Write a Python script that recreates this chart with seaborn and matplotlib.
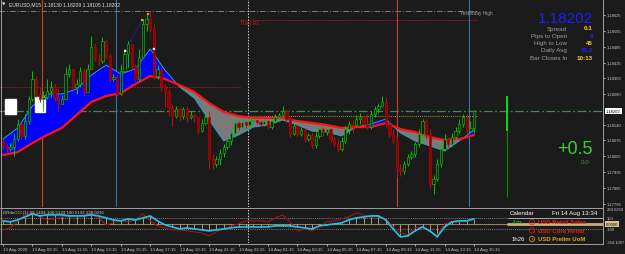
import numpy as np
import pandas as pd
import matplotlib
matplotlib.use("Agg")
import matplotlib.pyplot as plt
import matplotlib.transforms as mtransforms
from matplotlib.lines import Line2D
from matplotlib.patches import Rectangle
import seaborn as sns

# EURUSD M15, bars from 13 Aug 07:15 to 14 Aug 15:15 (open = previous close)
first_open = 1.18072
last_open = 1.18130
close = [
    1.18050, 1.18037, 1.18045, 1.18080, 1.18146, 1.18094, 1.18159, 1.18256, 1.18344, 1.18278,
    1.18256, 1.18265, 1.18291, 1.18309, 1.18265, 1.18234, 1.18256, 1.18366, 1.18388, 1.18309,
    1.18322, 1.18379, 1.18287, 1.18388, 1.18484, 1.18432, 1.18423, 1.18511, 1.18445, 1.18344,
    1.18353, 1.18278, 1.18379, 1.18454, 1.18497, 1.18401, 1.18344, 1.18440, 1.18585, 1.18607,
    1.18563, 1.18357, 1.18388, 1.18309, 1.18287, 1.18221, 1.18181, 1.18212, 1.18181, 1.18212,
    1.18177, 1.18186, 1.18177, 1.18115, 1.18151, 1.18177, 1.17993, 1.17971, 1.17993, 1.18019,
    1.18045, 1.18072, 1.18107, 1.18151, 1.18133, 1.18155, 1.18142, 1.18159, 1.18164, 1.18155,
    1.18146, 1.18159, 1.18133, 1.18159, 1.18177, 1.18186, 1.18203, 1.18168, 1.18102, 1.18137,
    1.18102, 1.18120, 1.18080, 1.18098, 1.18054, 1.18094, 1.18124, 1.18111, 1.18124, 1.18080,
    1.18058, 1.18037, 1.18072, 1.18124, 1.18146, 1.18142, 1.18168, 1.18177, 1.18146, 1.18133,
    1.18190, 1.18212, 1.18225, 1.18243, 1.18146, 1.18102, 1.18072, 1.17949, 1.17940, 1.17971,
    1.18002, 1.18015, 1.18058, 1.18102, 1.18159, 1.18102, 1.17883, 1.17905, 1.17971, 1.18037,
    1.18080, 1.18058, 1.18089, 1.18115, 1.18146, 1.18177, 1.18115, 1.18130, 1.18202]
high = [
    1.18080, 1.18058, 1.18063, 1.18102, 1.18168, 1.18155, 1.18190, 1.18269, 1.18379, 1.18353,
    1.18309, 1.18291, 1.18344, 1.18335, 1.18322, 1.18300, 1.18274, 1.18397, 1.18410, 1.18388,
    1.18344, 1.18397, 1.18388, 1.18410, 1.18533, 1.18497, 1.18454, 1.18528, 1.18519, 1.18454,
    1.18366, 1.18361, 1.18410, 1.18476, 1.18511, 1.18484, 1.18410, 1.18476, 1.18607, 1.18634,
    1.18642, 1.18585, 1.18405, 1.18397, 1.18322, 1.18300, 1.18234, 1.18225, 1.18221, 1.18221,
    1.18225, 1.18203, 1.18190, 1.18177, 1.18168, 1.18190, 1.18203, 1.18015, 1.18006, 1.18037,
    1.18058, 1.18080, 1.18124, 1.18168, 1.18159, 1.18168, 1.18159, 1.18173, 1.18168, 1.18164,
    1.18159, 1.18168, 1.18164, 1.18168, 1.18190, 1.18195, 1.18225, 1.18208, 1.18177, 1.18151,
    1.18142, 1.18133, 1.18129, 1.18107, 1.18107, 1.18111, 1.18133, 1.18133, 1.18137, 1.18129,
    1.18089, 1.18080, 1.18089, 1.18137, 1.18159, 1.18159, 1.18186, 1.18195, 1.18181, 1.18190,
    1.18203, 1.18225, 1.18238, 1.18269, 1.18265, 1.18159, 1.18124, 1.18089, 1.17971, 1.17984,
    1.18015, 1.18028, 1.18067, 1.18124, 1.18168, 1.18168, 1.18124, 1.17922, 1.17993, 1.18058,
    1.18102, 1.18089, 1.18107, 1.18133, 1.18168, 1.18190, 1.18190, 1.18159, 1.18209]
low = [
    1.18037, 1.18015, 1.18028, 1.18006, 1.18072, 1.18080, 1.18080, 1.18146, 1.18247, 1.18265,
    1.18243, 1.18203, 1.18256, 1.18265, 1.18247, 1.18199, 1.18238, 1.18256, 1.18353, 1.18291,
    1.18278, 1.18309, 1.18274, 1.18287, 1.18388, 1.18423, 1.18405, 1.18414, 1.18432, 1.18331,
    1.18335, 1.18269, 1.18274, 1.18375, 1.18397, 1.18388, 1.18335, 1.18335, 1.18440, 1.18554,
    1.18550, 1.18344, 1.18344, 1.18291, 1.18221, 1.18181, 1.18137, 1.18173, 1.18159, 1.18168,
    1.18155, 1.18168, 1.18155, 1.18102, 1.18111, 1.18142, 1.17949, 1.17949, 1.17957, 1.17966,
    1.18002, 1.18037, 1.18054, 1.18089, 1.18120, 1.18124, 1.18129, 1.18124, 1.18146, 1.18146,
    1.18137, 1.18137, 1.18124, 1.18124, 1.18151, 1.18168, 1.18177, 1.18151, 1.18089, 1.18098,
    1.18094, 1.18094, 1.18067, 1.18072, 1.18041, 1.18041, 1.18085, 1.18094, 1.18098, 1.18067,
    1.18045, 1.18023, 1.18028, 1.18063, 1.18102, 1.18107, 1.18137, 1.18146, 1.18133, 1.18124,
    1.18124, 1.18177, 1.18195, 1.18221, 1.18133, 1.18089, 1.18058, 1.17914, 1.17918, 1.17927,
    1.17962, 1.17993, 1.18002, 1.18045, 1.18072, 1.18080, 1.17861, 1.17839, 1.17896, 1.17957,
    1.18028, 1.18045, 1.18050, 1.18080, 1.18107, 1.18133, 1.18102, 1.18107, 1.18105]

# moving average cloud, read every 4th bar
ma_bars = list(range(0, 129, 4))
ma_slow = [1.18010, 1.18023, 1.18063, 1.18098, 1.18129, 1.18186, 1.18243, 1.18269, 1.18282,
           1.18322, 1.18357, 1.18344, 1.18317, 1.18287, 1.18238, 1.18199, 1.18181, 1.18173,
           1.18173, 1.18173, 1.18159, 1.18151, 1.18142, 1.18129, 1.18133, 1.18133, 1.18151,
           1.18124, 1.18111, 1.18089, 1.18076, 1.18080, 1.18098]
ma_fast = [1.18080, 1.18129, 1.18225, 1.18278, 1.18278, 1.18300, 1.18361, 1.18405, 1.18366,
           1.18388, 1.18476, 1.18383, 1.18309, 1.18260, 1.18164, 1.18072, 1.18098, 1.18133,
           1.18142, 1.18164, 1.18142, 1.18115, 1.18111, 1.18094, 1.18133, 1.18146, 1.18168,
           1.18107, 1.18072, 1.18050, 1.18028, 1.18072, 1.18120]

# CCI sub window, read every 2nd bar
cci_bars = list(range(0, 129, 2))
cci_main = [56, 37, 74, 130, 185, 148, 167, 167, 167, 148,
            148, 148, 167, 148, 111, 74, 56, 93, 74, 111,
            148, 56, -19, -56, -93, -74, -93, -111, -130, -111,
            -93, -74, -56, -56, -56, -56, -56, -37, -37, -37,
            -56, -74, -93, -37, -19, 0, 19, 74, 111, 130,
            148, 148, 74, -93, -241, -222, -130, -56, -130, -241,
            -56, 37, 56, 56, 93]
cci_signal = [-111, -74, 56, 167, 204, 130, 74, 93, 130, 148,
              148, 167, 185, 111, -19, 19, 56, 37, 74, 185,
              56, -37, -74, -111, -111, -130, -148, -167, -222, -148,
              -93, -37, 0, 56, 56, 56, 37, 111, 167, 37,
              -130, -93, -130, -56, 37, 56, 93, 130, 204, 167,
              130, 148, 93, -56, -167, -204, -74, -56, -148, -204,
              0, 37, 37, 56, 93]

time_ticks = list(range(0, 129, 8))
time_labels = ["13 Aug 2020", "13 Aug 09:15", "13 Aug 11:15", "13 Aug 13:15", "13 Aug 15:15",
               "13 Aug 17:15", "13 Aug 19:15", "13 Aug 21:15", "13 Aug 23:15", "14 Aug 01:15",
               "14 Aug 03:15", "14 Aug 05:15", "14 Aug 07:15", "14 Aug 09:15", "14 Aug 11:15",
               "14 Aug 13:15", "14 Aug 15:15"]
price_ticks = [1.18625, 1.18555, 1.18485, 1.18415, 1.18350, 1.18280,
               1.18140, 1.18075, 1.18005, 1.17935, 1.17865, 1.17796]
bid = 1.18202

# levels
yesterday_high = 1.18642
daily_r1 = 1.18603
prev_r1 = 1.18309
day_open = 1.18202
pivot = 1.18181
session_lines = [(10.6, '#c4421c'), (30.7, '#3d6fa3'), (107.0, '#c4421c'), (126.6, '#3d6fa3')]
day_separator = 66.6

info_names = ["Spread", "Pips to Open", "High to Low", "Daily Avg", "Bar Closes In"]
info_values = ["0.1", "0", "45", "55.2", "10:13"]
info_colors = ["#ffd21e", "#2323ff", "#ffd21e", "#2323ff", "#ffd21e"]

BG = '#1b1b1b'
GRID_TXT = '#c8c8c8'

sns.set_theme(style='dark', rc={'axes.facecolor': BG, 'figure.facecolor': BG})
plt.rcParams['font.family'] = ['Liberation Sans', 'DejaVu Sans']

W, H = 625, 255
fig = plt.figure(figsize=(W / 100, H / 100), dpi=100)


def fx(x):
    return x / W


def fy(y):
    return 1 - y / H


ax = fig.add_axes([0, fy(208), 603 / W, 208 / H])
sub = fig.add_axes([0, fy(244), 603 / W, 35 / H])
for a in (ax, sub):
    a.set_xlim(-3 / 3.68, 600 / 3.68)
    a.set_xticks([])
    a.set_yticks([])
    for s in a.spines.values():
        s.set_visible(False)
ax.set_ylim(1.17782, 1.18695)
sub.set_ylim(-354.1007, 294.5264)

# ---- main window ----
o = np.array([first_open] + close[:-1])
o[-1] = last_open
c = np.array(close)
h = np.maximum(np.array(high), np.maximum(o, c))
l = np.minimum(np.array(low), np.minimum(o, c))
bars = np.arange(len(c))
up = c >= o

ma = pd.DataFrame({'bar': ma_bars, 'slow': ma_slow, 'fast': ma_fast})
ax.fill_between(ma.bar, ma.slow, ma.fast, where=ma.fast >= ma.slow, interpolate=True,
                color='#0000ff', lw=0, zorder=2)
ax.fill_between(ma.bar, ma.slow, ma.fast, where=ma.fast < ma.slow, interpolate=True,
                color='#7a7a7a', lw=0, zorder=2)
sns.lineplot(data=ma, x='bar', y='fast', color='#2f9ed6', lw=0.7, ax=ax, zorder=3)
sns.lineplot(data=ma, x='bar', y='slow', color='#ff1414', lw=1.6, ax=ax, zorder=3)

dash_dot = (0, (7, 2, 1.5, 2))
ax.hlines(yesterday_high, -1, 128.8, colors='#8c8c8c', lw=0.6, linestyles=dash_dot, zorder=1)
ax.hlines(daily_r1, 64.4, 128.8, colors='#c81e1e', lw=0.6, linestyles=(0, (1.5, 1.5)), zorder=1)
ax.hlines(prev_r1, -1, 64.4, colors='#c81e1e', lw=0.6, linestyles=(0, (1.5, 1.5)), zorder=1)
ax.hlines(pivot, 61.7, 128.8, colors='#c8c81e', lw=0.6, linestyles=(0, (1, 1.5)), zorder=1)
ax.hlines(day_open, -1, 165, colors='#4f7f55', lw=0.9, linestyles=dash_dot, zorder=1)
ax.text(124.2, yesterday_high - 0.00008, "Yesterday High", color='#a0a0a0', fontsize=3.4,
        ha='left', va='center')
ax.text(64.6, daily_r1 - 0.00009, "Daily R1", color='#c81e1e', fontsize=3.4, va='center')

for xb, col in session_lines:
    ax.axvline(xb, color=col, lw=0.8, zorder=1)
for a in (ax, sub):
    a.axvline(day_separator, color='#d0d0d0', lw=0.7, ls=(0, (1.5, 1.5)), zorder=1)

# white objects on the left
ax.add_patch(Rectangle((0.55, 1.18190), 3.0, 0.00066, color='white', zorder=3.5))
ax.add_patch(Rectangle((8.7, 1.18199), 2.7, 0.00066, color='white', zorder=3.5))

# candles
ax.vlines(bars, l, h, colors=np.where(up, '#00c800', '#b41414'), lw=0.7, zorder=4)
body = np.maximum(np.abs(c - o), 0.00003)
ax.bar(bars, body, bottom=np.minimum(o, c), width=0.62,
       color=np.where(up, BG, '#8c0000'), edgecolor=np.where(up, '#00c800', '#c00000'),
       linewidth=0.45, zorder=5)

# signal marks near the high
sig_bars = [33.2, 37.8, 39.4, 41.0]
sig_prices = [1.18467, 1.18603, 1.18629, 1.18476]
ax.plot(sig_bars[:2], sig_prices[:2], color='#2a2aff', lw=0.6, ls=(0, (1, 1)), zorder=6)
ax.scatter(sig_bars, sig_prices, s=3, c=['white', '#ffb020', '#ff8c1e', 'white'],
           lw=0, zorder=6)

# projection bar
ax.vlines(137, 1.17826, 1.18116, colors='#009a00', lw=0.7, zorder=4)
ax.vlines(137, 1.18116, 1.18269, colors='#00e600', lw=1.4, zorder=4)

# right price scale
bt = mtransforms.blended_transform_factory(ax.transAxes, ax.transData)
for p in price_ticks:
    ax.plot([1.0, 1.004], [p, p], color=GRID_TXT, lw=0.5, transform=bt, clip_on=False)
    ax.text(1.006, p, f"{p:.5f}", transform=bt, fontsize=3.0, color=GRID_TXT, va='center',
            ha='left', clip_on=False)
ax.text(1.005, bid, f"{bid:.5f}", transform=bt, fontsize=3.0, color='black', va='center',
        ha='left', clip_on=False,
        bbox=dict(facecolor='white', edgecolor='none', boxstyle='square,pad=0.25'))

# ---- CCI sub window ----
cci = pd.DataFrame({'bar': cci_bars, 'main': cci_main, 'signal': cci_signal})
sub.axhline(0, color='#c8b078', lw=0.5, zorder=1)
sub.vlines(cci.bar, 0, cci.main, colors='#c8b078', lw=0.6, zorder=2)
for lv in (100, -100):
    sub.axhline(lv, color='#9a9a9a', lw=0.5, ls=(0, (1.5, 1.5)), zorder=1)
sns.lineplot(data=cci, x='bar', y='signal', color='#a01414', lw=0.8, ax=sub, zorder=3)
sns.lineplot(data=cci, x='bar', y='main', color='#1ec4f0', lw=1.2, ax=sub, zorder=4)
sub.hlines(0, 137, 165, colors='#c8b078', lw=2.0, zorder=5)
bs = mtransforms.blended_transform_factory(sub.transAxes, sub.transData)
for v, lab in [(294.5264, "294.5264"), (100, "100"), (-100, "-100"), (-354.1007, "-354.1007")]:
    yy = min(max(v, -330), 275)
    sub.text(1.006, yy, lab, transform=bs, fontsize=3.0, color=GRID_TXT, va='center',
             ha='left', clip_on=False)
sub.text(1.005, 0, "0.0000", transform=bs, fontsize=3.0, color='black', va='center', ha='left',
         clip_on=False, bbox=dict(facecolor='#d8c48c', edgecolor='none', boxstyle='square,pad=0.2'))
for a in (ax, sub):
    a.set_xlabel('')
    a.set_ylabel('')

# time scale
tt = mtransforms.blended_transform_factory(sub.transData, fig.transFigure)
for b, lab in zip(time_ticks, time_labels):
    sub.text(b, fy(250), lab, transform=tt, fontsize=3.2, color=GRID_TXT, ha='left',
             va='center', clip_on=False)
    sub.plot([b, b], [fy(244.5), fy(246.5)], transform=tt, color=GRID_TXT, lw=0.5, clip_on=False)

# frame lines
for (x0, y0, x1, y1) in [(0, 208.5, 603, 208.5), (0, 244.5, 603, 244.5), (603, 0, 603, 244.5),
                         (0.5, 0, 0.5, 244.5)]:
    fig.add_artist(Line2D([fx(x0), fx(x1)], [fy(y0), fy(y1)], color='#b4b4b4', lw=0.6))

# texts
fig.text(fx(2), fy(5), "\u25bc", fontsize=3.2, color='#e0e0e0', va='center', family='DejaVu Sans')
fig.text(fx(9), fy(5), "EURUSD,M15  1.18130 1.18209 1.18105 1.18202", fontsize=3.6,
         color='#e0e0e0', va='center')
fig.text(fx(593), fy(19), f"{bid:.5f}", fontsize=11, color='#1e1eff', ha='right', va='center')
for k, (nm, val, col) in enumerate(zip(info_names, info_values, info_colors)):
    yy = 29 + k * 7.3
    fig.text(fx(567), fy(yy), nm, fontsize=4.5, color='#a0a0a0', ha='right', va='center')
    fig.text(fx(593), fy(yy), val, fontsize=4.5, color=col, ha='right', va='center',
             fontweight='bold')
fig.text(fx(593), fy(150), "+0.5", fontsize=13, color='#38d038', ha='right', va='center')
fig.text(fx(585), fy(163), "0.0", fontsize=4.5, color='#4e8c4e', ha='center', va='center')

fig.text(fx(3), fy(213), "DRdoCCI (1) 99.1494 100.5133 100.5133 128.0236", fontsize=3.2,
         color=GRID_TXT, va='center')

# calendar panel
fig.text(fx(510), fy(214), "Calendar", fontsize=4.4, color='white', va='center')
fig.text(fx(552), fy(214), "Fri 14 Aug 13:34", fontsize=4.4, color='white', va='center')
fig.add_artist(Line2D([fx(508), fx(603)], [fy(218.5), fy(218.5)], color='#d0d0d0', lw=0.5))
cal_rows = [("-1m", '#30d030', "USD Retail Sales", '#e02020'),
            ("", None, "USD Core Retail", '#e02020'),
            ("1h26", 'white', "USD Prelim UoM", '#e8a020')]
for k, (tl, tcol, ev, ecol) in enumerate(cal_rows):
    yy = 223 + k * 8.5
    if tl:
        fig.text(fx(512), fy(yy), tl, fontsize=4.3, color=tcol, va='center')
    fig.text(fx(532), fy(yy), "!", fontsize=3.2, color=ecol, va='center', ha='center',
             fontweight='bold',
             bbox=dict(boxstyle='circle,pad=0.15', facecolor='none', edgecolor=ecol, lw=0.5))
    fig.text(fx(538), fy(yy), ev, fontsize=4.3, color=ecol, va='center', fontweight='bold')

fig.savefig('out.png', dpi=100, facecolor=BG)
